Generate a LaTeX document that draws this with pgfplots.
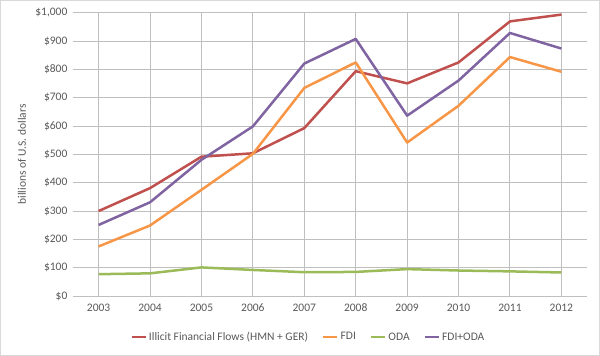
\documentclass[border=0pt]{standalone}
\usepackage{fontspec}
\setmainfont{Carlito}
\usepackage{pgfplots}
\pgfplotsset{compat=1.18}
\definecolor{cIFF}{HTML}{C0504D}
\definecolor{cFDI}{HTML}{F79646}
\definecolor{cODA}{HTML}{9BBB59}
\definecolor{cSUM}{HTML}{8064A2}
\definecolor{txt}{HTML}{595959}
\definecolor{grid}{HTML}{D9D9D9}
\begin{document}
\begin{tikzpicture}
\draw[grid, line width=0.75pt] (-72.5pt,-59.5pt) rectangle (526.5pt,295.5pt);
\begin{axis}[
  at={(0,0)}, anchor=south west,
  scale only axis, width=514pt, height=283pt,
  xmin=2002.5, xmax=2012.5, ymin=0, ymax=1000,
  xtick={2003,...,2012}, ytick={0,100,...,1000},
  xticklabel style={/pgf/number format/1000 sep={}},
  x tick label style={/pgf/number format/1000 sep={}},
  yticklabel={\$\pgfmathprintnumber[1000 sep={,}]{\tick}},
  /pgf/number format/assume math mode=true,
  tick label style={font=\fontsize{11.5}{13}\selectfont, text=txt},
  xticklabel style={yshift=-4pt},
  yticklabel style={xshift=-2pt},
  major tick length=0pt,
  axis line style={draw=none},
  ymajorgrids, grid style={grid, line width=0.9pt},
  ylabel={billions of U.S. dollars},
  ylabel style={at={(axis description cs:-0.099,0.5)}, anchor=center, rotate=0, font=\fontsize{11.5}{13}\selectfont, text=txt},
  legend columns=-1,
  legend style={at={(axis description cs:0.458,-0.145)}, anchor=center, draw=none, fill=none,
    font=\fontsize{11.5}{13}\selectfont, text=txt, /tikz/every even column/.append style={column sep=12pt}},
  legend image code/.code={\draw[#1, line width=2.5pt] (0pt,0pt) -- (14pt,0pt);},
  every axis plot/.append style={line width=2.5pt, line join=round, no marks},
]
\addplot[cIFF] coordinates {(2003,300) (2004,381) (2005,492) (2006,504) (2007,593) (2008,794) (2009,751) (2010,825) (2011,970) (2012,994)};
\addlegendentry{Illicit Financial Flows (HMN + GER)}
\addplot[cFDI] coordinates {(2003,175) (2004,249) (2005,375) (2006,502) (2007,735) (2008,825) (2009,542) (2010,672) (2011,844) (2012,792)};
\addlegendentry{FDI}
\addplot[cODA] coordinates {(2003,77) (2004,80) (2005,101) (2006,92) (2007,84) (2008,85) (2009,95) (2010,90) (2011,87) (2012,83)};
\addlegendentry{ODA}
\addplot[cSUM] coordinates {(2003,251) (2004,331) (2005,481) (2006,599) (2007,821) (2008,908) (2009,637) (2010,761) (2011,929) (2012,874)};
\addlegendentry{FDI+ODA}
\end{axis}
\end{tikzpicture}
\end{document}
